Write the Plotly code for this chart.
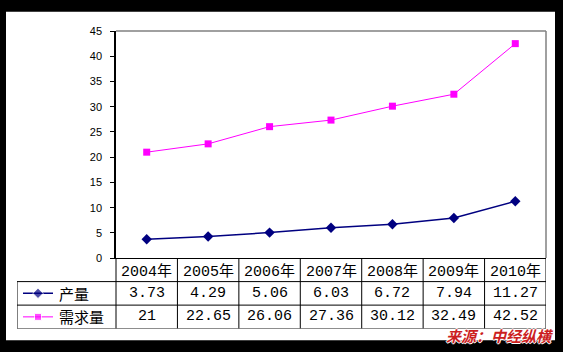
import plotly.graph_objects as go

years = ["2004年", "2005年", "2006年", "2007年", "2008年", "2009年", "2010年"]
output_vals = [3.73, 4.29, 5.06, 6.03, 6.72, 7.94, 11.27]
demand_vals = [21, 22.65, 26.06, 27.36, 30.12, 32.49, 42.52]
output_labels = ["3.73", "4.29", "5.06", "6.03", "6.72", "7.94", "11.27"]
demand_labels = ["21", "22.65", "26.06", "27.36", "30.12", "32.49", "42.52"]
series_names = ["产量", "需求量"]
source_text = "来源：中经纵横"

W, H = 563, 352
# pixel layout
plot_l, plot_r, plot_t, plot_b = 116, 546, 26, 261
tab_l, tab_b = 17, 334
n = len(years)
unit = (plot_r - plot_l) / n
x2_left = -0.5 - (plot_l - tab_l) / unit

NAVY = "#000080"
MAG = "#FF00FF"
xs = list(range(n))

fig = go.Figure()
fig.add_trace(go.Scatter(x=xs, y=output_vals, mode="lines+markers", name=series_names[0],
                         line=dict(color=NAVY, width=1.5),
                         marker=dict(symbol="diamond", size=8, color=NAVY), showlegend=False))
fig.add_trace(go.Scatter(x=xs, y=demand_vals, mode="lines+markers", name=series_names[1],
                         line=dict(color=MAG, width=1),
                         marker=dict(symbol="square", size=7, color=MAG), showlegend=False))

# legend glyphs in the table's label column (row centers 1.5 and 0.5 in y2)
glyph_x0 = x2_left + 6 / unit
glyph_x1 = x2_left + 36 / unit
glyph_xm = (glyph_x0 + glyph_x1) / 2
fig.add_trace(go.Scatter(x=[glyph_x0, glyph_xm, glyph_x1], y=[1.5, 1.5, 1.5], xaxis="x2", yaxis="y2",
                         mode="lines+markers", line=dict(color=NAVY, width=1.5),
                         marker=dict(symbol="diamond", size=[0, 8, 0], color=NAVY), showlegend=False,
                         hoverinfo="skip"))
fig.add_trace(go.Scatter(x=[glyph_x0, glyph_xm, glyph_x1], y=[0.5, 0.5, 0.5], xaxis="x2", yaxis="y2",
                         mode="lines+markers", line=dict(color=MAG, width=1),
                         marker=dict(symbol="square", size=[0, 7, 0], color=MAG), showlegend=False,
                         hoverinfo="skip"))

shapes = []
# white inner canvas on black frame
shapes.append(dict(type="rect", xref="paper", yref="paper", x0=6 / W, x1=555 / W, y0=1 - 346 / H, y1=1 - 6 / H,
                   fillcolor="white", line=dict(width=0), layer="below"))
# gray top/right border of plot area
shapes.append(dict(type="line", xref="x domain", yref="y domain", x0=0, x1=1, y0=1, y1=1,
                   line=dict(color="#808080", width=1.5)))
shapes.append(dict(type="line", xref="x domain", yref="y domain", x0=1, x1=1, y0=0, y1=1,
                   line=dict(color="#808080", width=1.5)))
# table grid (x2/y2 coordinates: rows 0..3, columns -0.5..n-0.5)
blk = dict(color="black", width=1)
for yy in [0, 1, 2]:
    shapes.append(dict(type="line", xref="x2", yref="y2", x0=x2_left, x1=n - 0.5, y0=yy, y1=yy, line=blk))
shapes.append(dict(type="line", xref="x2", yref="y2", x0=x2_left, x1=x2_left, y0=0, y1=2, line=blk))
for i in range(n + 1):
    shapes.append(dict(type="line", xref="x2", yref="y2", x0=i - 0.5, x1=i - 0.5, y0=0, y1=3, line=blk))

annotations = []
numfont = dict(family="Liberation Mono, monospace", size=15, color="black")
cjkfont = dict(family="Noto Sans CJK SC", size=15, color="black")
for i, yl in enumerate(years):
    annotations.append(dict(x=i, y=2.5, xref="x2", yref="y2", showarrow=False,
                            text=yl[:-1] + "<span style='font-family:Noto Sans CJK SC'>" + yl[-1] + "</span>",
                            font=numfont))
    annotations.append(dict(x=i, y=1.5, xref="x2", yref="y2", showarrow=False, text=output_labels[i], font=numfont))
    annotations.append(dict(x=i, y=0.5, xref="x2", yref="y2", showarrow=False, text=demand_labels[i], font=numfont))
for row, name in zip([1.5, 0.5], series_names):
    annotations.append(dict(x=x2_left + 40 / unit, y=row, xref="x2", yref="y2", showarrow=False,
                            xanchor="left", text=name, font=cjkfont))
annotations.append(dict(x=556 / W, y=1 - 341 / H, xref="paper", yref="paper", showarrow=False,
                        xanchor="right", yanchor="middle", text="<b><i>" + source_text + "</i></b>",
                        font=dict(family="Noto Sans CJK SC", size=15, color="#CC1F1F",
                                  shadow="1px 0 0 white, -1px 0 0 white, 0 1px 0 white, 0 -1px 0 white")))

fig.update_layout(
    width=W, height=H,
    margin=dict(l=0, r=0, t=0, b=0),
    paper_bgcolor="black", plot_bgcolor="white",
    shapes=shapes, annotations=annotations,
    xaxis=dict(domain=[plot_l / W, plot_r / W], range=[-0.5, n - 0.5], showticklabels=False, ticks="",
               showgrid=False, zeroline=False, showline=True, linecolor="black", linewidth=1, fixedrange=True),
    yaxis=dict(domain=[1 - plot_b / H, 1 - plot_t / H], range=[0, 45], dtick=5, ticks="outside", ticklen=4,
               tickcolor="black", showgrid=False, zeroline=False, showline=True, linecolor="black",
               linewidth=1.5, ticklabelstandoff=6,
               tickfont=dict(family="Liberation Sans, Arial", size=11, color="black")),
    xaxis2=dict(domain=[tab_l / W, plot_r / W], range=[x2_left, n - 0.5], visible=False, anchor="y2"),
    yaxis2=dict(domain=[1 - tab_b / H, 1 - plot_b / H], range=[0, 3], visible=False, anchor="x2"),
)

fig.write_html("out.html")
